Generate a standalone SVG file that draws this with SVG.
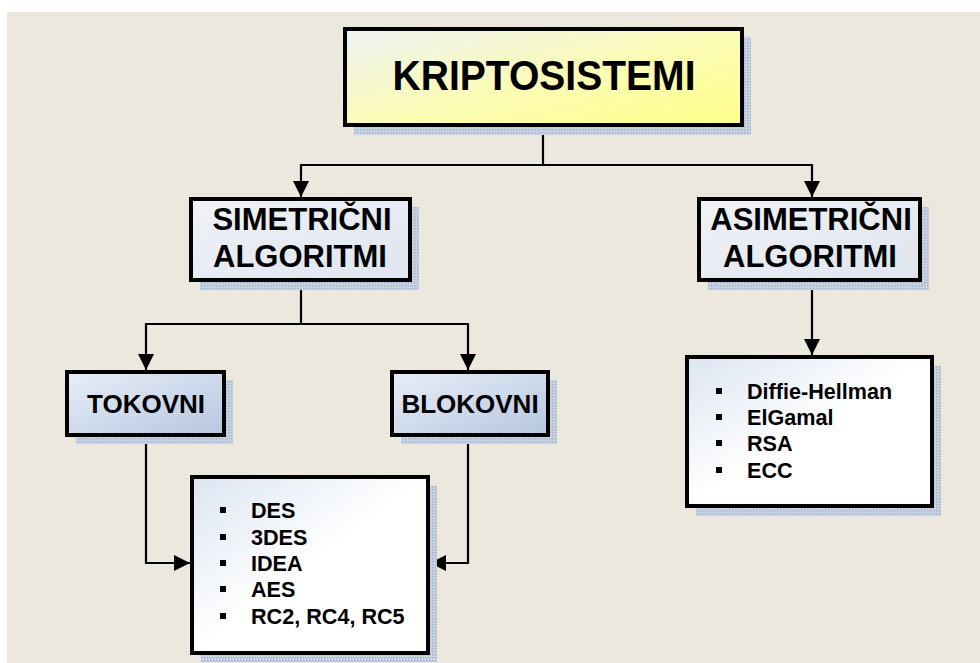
<svg xmlns="http://www.w3.org/2000/svg" width="980" height="663" viewBox="0 0 980 663">
<defs>
<style>
.box{stroke:#000;stroke-width:4}
.shadow{fill:url(#dots)}
.t{font-family:"Liberation Sans",Arial,sans-serif;font-weight:bold;fill:#000;text-anchor:middle}
.li{font-family:"Liberation Sans",Arial,sans-serif;font-weight:bold;fill:#000;font-size:21.6px}
.conn{stroke:#000;stroke-width:2.2;fill:none}
</style>
<pattern id="dots" width="3" height="3" patternUnits="userSpaceOnUse">
<rect width="3" height="3" fill="#c9d3e2"/>
<rect width="1.5" height="1.5" fill="#9fb3d0"/>
</pattern>
<linearGradient id="gYellow" x1="0" y1="0" x2="1" y2="1">
<stop offset="0" stop-color="#eef2f4"/>
<stop offset="0.5" stop-color="#fbfbb8"/>
<stop offset="1" stop-color="#ffff88"/>
</linearGradient>
<linearGradient id="gGrey" x1="0" y1="0" x2="1" y2="1">
<stop offset="0" stop-color="#f0f2f7"/>
<stop offset="1" stop-color="#dfe4ee"/>
</linearGradient>
<linearGradient id="gBlue" x1="0" y1="0" x2="1" y2="1">
<stop offset="0" stop-color="#e8eef7"/>
<stop offset="1" stop-color="#b6c7e0"/>
</linearGradient>
<linearGradient id="gList" x1="0" y1="0" x2="1" y2="1">
<stop offset="0" stop-color="#dce5f2"/>
<stop offset="0.5" stop-color="#ffffff"/>
<stop offset="1" stop-color="#ffffff"/>
</linearGradient>
<marker id="arr" viewBox="0 0 16 16" refX="16" refY="8" markerWidth="16" markerHeight="16" markerUnits="userSpaceOnUse" orient="auto">
<path d="M0,0 L16,8 L0,16 Z" fill="#000"/>
</marker>
</defs>
<rect x="0" y="0" width="980" height="663" fill="#ffffff"/>
<rect x="7" y="12" width="973" height="651" fill="#ece8dd"/>

<g id="connectors">
<path class="conn" d="M543,126 V165 H301 V197" marker-end="url(#arr)"/>
<path class="conn" d="M543,165 H812 V197" marker-end="url(#arr)"/>
<path class="conn" d="M301,282 V324 H146 V370" marker-end="url(#arr)"/>
<path class="conn" d="M301,324 H468 V370" marker-end="url(#arr)"/>
<path class="conn" d="M812,282 V355" marker-end="url(#arr)"/>
<path class="conn" d="M146,437 V563 H190" marker-end="url(#arr)"/>
<path class="conn" d="M468,437 V563 H430" marker-end="url(#arr)"/>
</g>

<g id="kriptosistemi">
<rect class="shadow" x="354" y="37" width="397" height="98"/>
<rect class="box" x="345" y="29" width="397" height="96" fill="url(#gYellow)"/>
<text class="t" x="544" y="90" font-size="42" textLength="303" lengthAdjust="spacingAndGlyphs">KRIPTOSISTEMI</text>
</g>

<g id="simetricni">
<rect class="shadow" x="200" y="207" width="219" height="83"/>
<rect class="box" x="191" y="199" width="219" height="81" fill="url(#gGrey)"/>
<text class="t" x="302" y="230" font-size="31">SIMETRIČNI</text>
<text class="t" x="300" y="267" font-size="31">ALGORITMI</text>
</g>

<g id="asimetricni">
<rect class="shadow" x="708" y="207" width="221" height="83"/>
<rect class="box" x="699" y="199" width="221" height="81" fill="url(#gGrey)"/>
<text class="t" x="811" y="230" font-size="31">ASIMETRIČNI</text>
<text class="t" x="810" y="267" font-size="31">ALGORITMI</text>
</g>

<g id="tokovni">
<rect class="shadow" x="76" y="380" width="157" height="64"/>
<rect class="box" x="67" y="372" width="157" height="63" fill="url(#gBlue)"/>
<text class="t" x="146" y="413" font-size="26">TOKOVNI</text>
</g>

<g id="blokovni">
<rect class="shadow" x="401" y="380" width="156" height="64"/>
<rect class="box" x="392" y="372" width="156" height="63" fill="url(#gBlue)"/>
<text class="t" x="470" y="413" font-size="26">BLOKOVNI</text>
</g>

<g id="simetricni-lista">
<rect class="shadow" x="201" y="486" width="236" height="176"/>
<rect class="box" x="192" y="477" width="236" height="176" fill="url(#gList)"/>
<g fill="#000">
<rect x="220" y="507" width="6" height="6"/>
<rect x="220" y="534" width="6" height="6"/>
<rect x="220" y="560" width="6" height="6"/>
<rect x="220" y="586" width="6" height="6"/>
<rect x="220" y="613" width="6" height="6"/>
</g>
<text class="li" x="251" y="518">DES</text>
<text class="li" x="251" y="545">3DES</text>
<text class="li" x="251" y="571">IDEA</text>
<text class="li" x="251" y="597">AES</text>
<text class="li" x="251" y="624">RC2, RC4, RC5</text>
</g>

<g id="asimetricni-lista">
<rect class="shadow" x="696" y="366" width="245" height="150"/>
<rect class="box" x="687" y="357" width="245" height="149" fill="url(#gList)"/>
<g fill="#000">
<rect x="716" y="388" width="6" height="6"/>
<rect x="716" y="414" width="6" height="6"/>
<rect x="716" y="440" width="6" height="6"/>
<rect x="716" y="467" width="6" height="6"/>
</g>
<text class="li" x="747" y="399">Diffie-Hellman</text>
<text class="li" x="747" y="425">ElGamal</text>
<text class="li" x="747" y="451">RSA</text>
<text class="li" x="747" y="478">ECC</text>
</g>
</svg>
